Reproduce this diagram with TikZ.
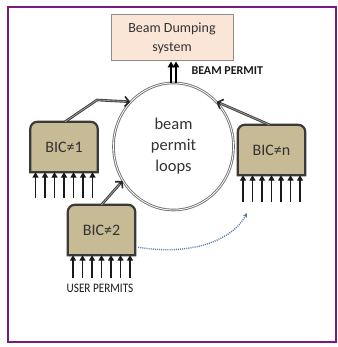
\documentclass[tikz,border=0pt]{standalone}
\usepackage{fontspec}
\setmainfont{Carlito}
\usetikzlibrary{arrows.meta,shapes.geometric,backgrounds,calc}
\definecolor{framepurple}{HTML}{7A1A7E}
\definecolor{dumpfill}{HTML}{FBE5D6}
\definecolor{bicfill}{HTML}{C6BB95}
\definecolor{bicedge}{HTML}{3A3A3A}
\definecolor{txtgray}{HTML}{333333}
\definecolor{dotblue}{HTML}{5677A8}
\newcommand\neqsign{≠}

\begin{document}
\begin{tikzpicture}[x=1pt,y=-1pt,
  every node/.style={text=txtgray},
  bictext/.style={font=\fontsize{16}{19}\selectfont, minimum width=67pt, minimum height=50pt, inner sep=0pt},
  bicbody/.style={fill=bicfill, draw=bicedge, line width=2.2pt},
  feed/.style={draw=black!90, line width=1.9pt, -{Triangle[length=5.5pt,width=6pt]}},
  linkbody/.style={draw=black!75, double=black!40, double distance=0.8pt, line width=0.9pt},
  linktip/.style={draw=black!85, line width=1.5pt, -{Straight Barb[length=4.5pt,width=10pt,line width=1.6pt]}},
  permitup/.style={draw=black, line width=2.4pt, -{Triangle[length=6pt,width=6.5pt]}},
]
\useasboundingbox (0,0) rectangle (337,347);

% outer frame
\draw[framepurple, line width=2.5pt] (8,7) rectangle (336,342);

% beam dumping system
\node[draw=black!45, fill=dumpfill, line width=1pt, minimum width=122pt, minimum height=46pt,
  align=center, font=\fontsize{14}{19}\selectfont] (dump) at (172,38) {Beam Dumping\\system};

% beam permit loops
\node[ellipse, draw=black!55, double=white, double distance=0.8pt, line width=0.9pt,
  minimum width=120pt, minimum height=127pt, inner sep=0pt, align=center,
  font=\fontsize{16.5}{21}\selectfont] (loop) at (173.5,146.5) {beam\\permit\\loops};

% beam interlock controllers
\node[bictext] (b1) at (64,147) {BIC\neqsign1};
\node[bictext] (b2) at (101.5,230) {BIC\neqsign2};
\node[bictext] (bn) at (271.5,150) {BIC\neqsign n};

\begin{scope}[on background layer]
  \foreach \b in {b1,b2,bn}
    \draw[bicbody] (\b.south west) [rounded corners=7pt] -- (\b.north west) -- (\b.north east)
      [sharp corners] -- (\b.south east) -- cycle;
\end{scope}

% user permit inputs
\foreach \b/\len in {b1/26,b2/23,bn/27}
  \foreach \k in {-3,...,3}
    \draw[feed] ([xshift={\k*9.5pt},yshift={-\len pt}]\b.south) -- ([xshift={\k*9.5pt}]\b.south);

% links into the loop: double-lined body, then a solid barb at the loop
\coordinate (bend1) at (97,100);
\coordinate (s1) at ([xshift=1pt]b1.north);
\coordinate (sn) at ([xshift=-2pt]bn.north);
\draw[linkbody] (s1) -- (bend1) -- ($(loop.134)!1.5pt!(bend1)$);
\draw[linktip] ($(loop.134)!4pt!(bend1)$) -- (loop.134);
\draw[linkbody] (sn) -- ($(loop.46)!1.5pt!(sn)$);
\draw[linktip] ($(loop.46)!4pt!(sn)$) -- (loop.46);
\draw[linkbody] (b2.north) -- ($(loop.214)!1.5pt!(b2.north)$);
\draw[linktip] ($(loop.214)!4pt!(b2.north)$) -- (loop.214);

% beam permit to the dumping system
\coordinate (pa) at ([xshift=-2.5pt]loop.north);
\coordinate (pb) at ([xshift=2.5pt]loop.north);
\draw[permitup] (pa) -- (pa |- dump.south);
\draw[permitup] (pb) -- (pb |- dump.south);

\node[anchor=west, font=\bfseries\fontsize{12}{14}\selectfont, text=black!90] (bp) at (188,71) {BEAM PERMIT};
\node[font=\fontsize{13}{15}\selectfont, text=black!90] (up) at (100,288)
  {\scalebox{0.86}[1]{USER PERMITS}};

% token passing between controllers
\coordinate (dotend) at (247,213);
\draw[dotblue, line width=1.4pt, dash pattern=on 1pt off 1.1pt, -{Stealth[length=4.5pt,width=4.5pt]}]
  ([xshift=3pt,yshift=8pt]b2.south east) .. controls (190,256) and (232,241) .. (dotend);
\end{tikzpicture}
\end{document}
